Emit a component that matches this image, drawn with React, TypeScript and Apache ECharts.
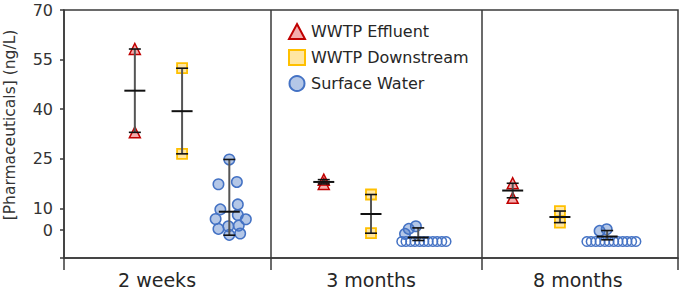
import React, { useEffect, useRef } from 'react';
import * as echarts from 'echarts';

// ---- data ----
const categories = ['2 weeks', '3 months', '8 months'];
const categoryLabelPos = [1.47, 6.0, 10.38];
const groupEdges = [-0.5, 3.87, 8.34, 12.5];

const yTickValues = [3.4, 10, 25, 40, 55, 70];
const yTickLabels = ['0', '10', '25', '40', '55', '70'];

// x positions of each sample type within a sampling time
const effluentX = [1, 5, 9];
const downstreamX = [2, 6, 10];
const surfaceX = [3, 7, 11];

// WWTP Effluent values per sampling time
const effluentValues = [
  [58.2, 33.0],
  [18.7, 17.4],
  [17.6, 13.2],
];
// WWTP Downstream values per sampling time
const downstreamValues = [
  [52.4, 26.5],
  [14.2, 2.5],
  [9.2, 5.7],
];
// Surface water detected values: [x jitter, value]
const surfaceDetected = [
  [
    [0.0, 24.8], [-0.23, 17.3], [0.16, 18.0], [0.18, 11.2], [-0.19, 9.7],
    [-0.29, 6.8], [0.18, 8.0], [0.35, 6.7], [-0.23, 3.8], [-0.02, 4.6],
    [0.2, 4.8], [0.0, 2.0], [0.23, 2.4],
  ],
  [
    [-0.05, 4.6], [-0.2, 3.8], [-0.28, 2.3],
  ],
  [
    [-0.16, 3.2], [-0.01, 3.7],
  ],
];
// Surface water non-detects (value 0): x jitter
const surfaceNonDetectJitter = [
  [],
  [-0.35, -0.26, -0.16, -0.07, 0.03, 0.12, 0.21, 0.31, 0.4, 0.5, 0.59],
  [-0.43, -0.34, -0.24, -0.15, -0.05, 0.04, 0.14, 0.23, 0.33, 0.42, 0.52, 0.61],
];

// error bar stats per sampling time: [low, high, mean]
const effluentStats = [[33.0, 58.2, 45.6], [17.4, 18.7, 18.0], [13.2, 17.6, 15.4]];
const downstreamStats = [[26.5, 52.4, 39.4], [2.5, 14.2, 8.3], [5.7, 9.2, 7.4]];
const surfaceStats = [[1.9, 24.8, 9.0], [0.3, 4.1, 1.2], [0.5, 3.3, 1.5]];

// ---- styling ----
const FONT = '"DejaVu Sans", "Liberation Sans", Arial, sans-serif';
const AXIS = '#3a3a3a';

function buildOption() {
  const effluentData: number[][] = [];
  effluentValues.forEach((vals, g) => vals.forEach((v) => effluentData.push([effluentX[g], v])));
  const downstreamData: number[][] = [];
  downstreamValues.forEach((vals, g) => vals.forEach((v) => downstreamData.push([downstreamX[g], v])));
  const surfaceData: number[][] = [];
  surfaceDetected.forEach((pts, g) => pts.forEach(([dx, v]) => surfaceData.push([surfaceX[g] + dx, v])));
  const ndData: number[][] = [];
  surfaceNonDetectJitter.forEach((arr, g) => arr.forEach((dx) => ndData.push([surfaceX[g] + dx, 0])));

  const barData: number[][] = [];
  [
    [effluentX, effluentStats],
    [downstreamX, downstreamStats],
    [surfaceX, surfaceStats],
  ].forEach(([xs, stats]: any) => {
    stats.forEach((s: number[], g: number) => barData.push([xs[g], s[0], s[1], s[2]]));
  });

  return {
    animation: false,
    backgroundColor: '#ffffff',
    grid: {
      left: 64,
      right: 4,
      top: 10,
      bottom: 30,
      show: true,
      borderColor: AXIS,
      borderWidth: 1.5,
      backgroundColor: 'transparent',
    },
    legend: {
      left: 288,
      top: 23,
      padding: 0,
      orient: 'vertical',
      itemWidth: 16,
      itemHeight: 15,
      itemGap: 9,
      data: [
        { name: 'WWTP Effluent', icon: 'triangle' },
        { name: 'WWTP Downstream', icon: 'rect' },
        { name: 'Surface Water', icon: 'circle' },
      ],
      textStyle: { fontFamily: FONT, fontSize: 16, color: '#262626', padding: [0, 0, 0, 1] },
    },
    graphic: [
      {
        type: 'text',
        x: 10,
        y: 125,
        rotation: Math.PI / 2,
        style: {
          text: '[Pharmaceuticals] (ng/L)',
          font: `15.5px ${FONT}`,
          fill: '#333',
          textAlign: 'center',
          textVerticalAlign: 'middle',
        },
      },
    ],
    xAxis: {
      type: 'value',
      min: groupEdges[0],
      max: groupEdges[groupEdges.length - 1],
      splitLine: { show: false },
      axisLine: { show: true, onZero: false, lineStyle: { color: AXIS, width: 1.5 } },
      axisTick: {
        show: true,
        customValues: groupEdges,
        length: 12,
        inside: false,
        lineStyle: { color: AXIS, width: 1.5 },
      },
      axisLabel: {
        show: true,
        customValues: categoryLabelPos,
        margin: 12,
        fontFamily: FONT,
        fontSize: 19,
        color: '#262626',
        formatter: (v: number) => {
          const i = categoryLabelPos.findIndex((p) => Math.abs(p - v) < 1e-6);
          return i >= 0 ? categories[i] : '';
        },
      },
    },
    yAxis: {
      type: 'value',
      min: -5,
      max: 70,
      splitLine: { show: false },
      axisLine: { show: true, onZero: false, lineStyle: { color: AXIS, width: 1.5 } },
      axisTick: {
        show: true,
        customValues: [-5, ...yTickValues],
        length: 4,
        inside: false,
        lineStyle: { color: AXIS, width: 1.5 },
      },
      axisLabel: {
        show: true,
        customValues: yTickValues,
        margin: 11,
        fontFamily: FONT,
        fontSize: 16,
        color: '#333',
        formatter: (v: number) => {
          const i = yTickValues.findIndex((p) => Math.abs(p - v) < 1e-6);
          return i >= 0 ? yTickLabels[i] : '';
        },
      },
    },
    series: [
      {
        name: 'WWTP Effluent',
        type: 'scatter',
        symbol: 'triangle',
        symbolSize: 11,
        z: 2,
        itemStyle: { color: 'rgba(230, 70, 70, 0.45)', borderColor: '#c00000', borderWidth: 1.5, opacity: 1 },
        data: effluentData,
        markLine: {
          silent: true,
          symbol: 'none',
          label: { show: false },
          lineStyle: { color: AXIS, width: 1.5, type: 'solid' },
          data: [{ xAxis: groupEdges[1] }, { xAxis: groupEdges[2] }],
        },
      },
      {
        name: 'WWTP Downstream',
        type: 'scatter',
        symbol: 'rect',
        symbolSize: 10,
        z: 2,
        itemStyle: { color: 'rgba(255, 205, 70, 0.5)', borderColor: '#ffc000', borderWidth: 1.8, opacity: 1 },
        data: downstreamData,
      },
      {
        name: 'Surface Water',
        type: 'scatter',
        symbol: 'circle',
        symbolSize: 10.5,
        z: 2,
        itemStyle: { color: 'rgba(68, 114, 196, 0.4)', borderColor: '#4472c4', borderWidth: 1.5, opacity: 1 },
        data: surfaceData,
      },
      {
        name: 'Surface Water (non-detect)',
        type: 'scatter',
        symbol: 'circle',
        symbolSize: 9.5,
        z: 2,
        itemStyle: { color: 'rgba(255,255,255,0)', borderColor: '#4472c4', borderWidth: 1.5, opacity: 1 },
        data: ndData,
      },
      {
        name: 'error bars',
        type: 'custom',
        z: 5,
        silent: true,
        encode: { x: 0, y: [1, 2, 3] },
        data: barData,
        renderItem: (params: any, api: any) => {
          const x = api.value(0);
          const lo = api.coord([x, api.value(1)]);
          const hi = api.coord([x, api.value(2)]);
          const m = api.coord([x, api.value(3)]);
          const cap = 6;
          const mw = 10.5;
          return {
            type: 'group',
            children: [
              { type: 'line', shape: { x1: lo[0], y1: lo[1], x2: hi[0], y2: hi[1] }, style: { stroke: '#555', lineWidth: 2 } },
              { type: 'line', shape: { x1: lo[0] - cap, y1: lo[1], x2: lo[0] + cap, y2: lo[1] }, style: { stroke: '#111', lineWidth: 1.6 } },
              { type: 'line', shape: { x1: hi[0] - cap, y1: hi[1], x2: hi[0] + cap, y2: hi[1] }, style: { stroke: '#111', lineWidth: 1.6 } },
              { type: 'line', shape: { x1: m[0] - mw, y1: m[1], x2: m[0] + mw, y2: m[1] }, style: { stroke: '#111', lineWidth: 2 } },
            ],
          };
        },
      },
    ],
  };
}

export default function App() {
  const ref = useRef<HTMLDivElement>(null);
  useEffect(() => {
    if (!ref.current) return;
    const chart = echarts.init(ref.current, null, { renderer: 'svg' });
    chart.setOption(buildOption() as any);
    return () => chart.dispose();
  }, []);
  return <div ref={ref} style={{ position: 'fixed', left: 0, top: 0, width: 682, height: 289 }} />;
}
